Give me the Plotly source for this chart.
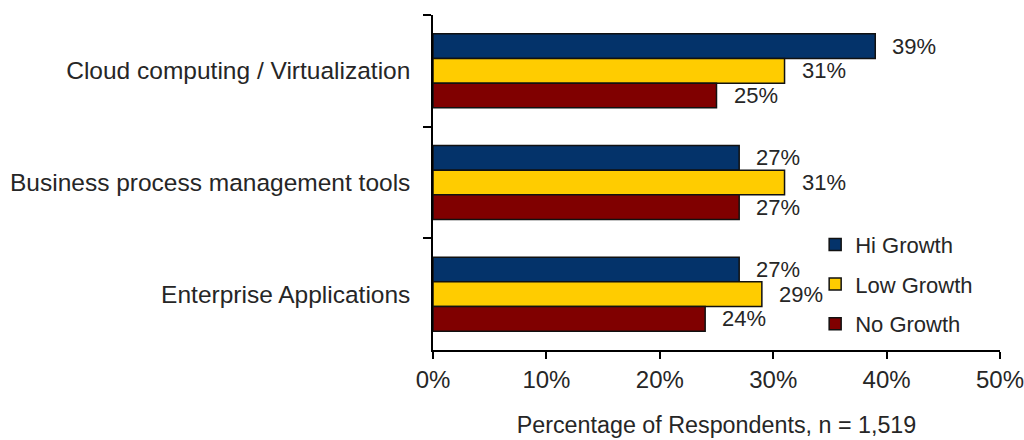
import plotly.graph_objects as go

categories = ["Cloud computing / Virtualization", "Business process management tools", "Enterprise Applications"]
series_names = ["Hi Growth", "Low Growth", "No Growth"]
hi_growth = [39, 27, 27]
low_growth = [31, 31, 29]
no_growth = [25, 27, 24]
x_tick_vals = [0, 10, 20, 30, 40, 50]
x_tick_text = ["0%", "10%", "20%", "30%", "40%", "50%"]

colors = ["#04336a", "#ffcc00", "#800000"]
series = [hi_growth, low_growth, no_growth]
FONT = "Liberation Sans, Arial, sans-serif"
TXT = "#262626"

fig = go.Figure()
for name, vals, col in zip(series_names, series, colors):
    fig.add_trace(go.Bar(
        y=categories, x=vals, name=name, orientation="h",
        marker=dict(color=col, line=dict(color="#111111", width=1.5)),
        legendgroup=name,
    ))

bargap = 0.337
bar_px = (1 - bargap) / 3 * (335 / 3)
shifts = [bar_px, 0, -bar_px]
for vals, sh in zip(series, shifts):
    for cat, v in zip(categories, vals):
        fig.add_annotation(x=v, y=cat, text=f"{v}%", showarrow=False,
                           xanchor="left", yanchor="middle", xshift=15, yshift=sh,
                           font=dict(size=22, color=TXT, family=FONT))

fig.update_layout(
    width=1024, height=440,
    margin=dict(l=433, r=24, t=15, b=90, autoexpand=False),
    paper_bgcolor="white", plot_bgcolor="white",
    barmode="group", bargap=bargap, bargroupgap=0,
    font=dict(family=FONT, size=24, color=TXT),
    showlegend=True,
    legend=dict(x=0.674, y=0.377, xanchor="left", yanchor="top",
                bgcolor="rgba(0,0,0,0)", font=dict(size=22, color=TXT),
                tracegroupgap=8, itemwidth=30),
)
fig.update_xaxes(range=[0, 50], tickvals=x_tick_vals, ticktext=x_tick_text, automargin=False,
                 ticklabeloverflow="allow",
                 showgrid=False, zeroline=False, showline=True, linecolor="black", linewidth=1.5,
                 ticks="outside", ticklen=7, tickcolor="black", tickwidth=1.5,
                 tickfont=dict(size=24),
                 title=dict(text="Percentage of Respondents, n = 1,519", standoff=25,
                            font=dict(size=23.3, color=TXT)))
fig.update_yaxes(autorange="reversed", type="category", automargin=False,
                 ticklabeloverflow="allow",
                 showgrid=False, zeroline=False, showline=True, linecolor="black", linewidth=1.5,
                 ticks="outside", ticklen=8, tickcolor="black", tickwidth=1.5, tickson="boundaries",
                 tickfont=dict(size=24.5), ticklabelstandoff=16)

fig.write_html("out.html")
